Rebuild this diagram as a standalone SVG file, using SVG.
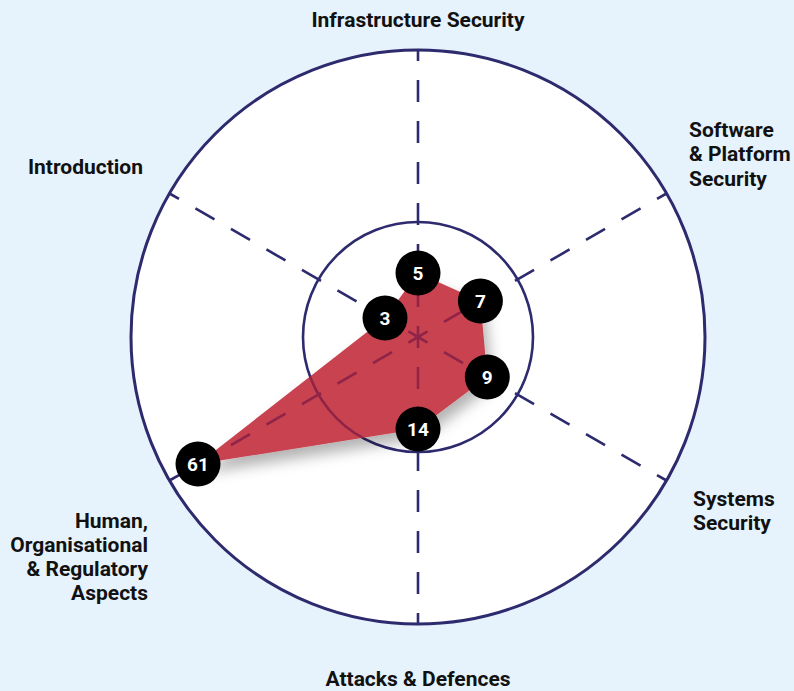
<svg xmlns="http://www.w3.org/2000/svg" width="794" height="691" viewBox="0 0 794 691">
<defs>
<style>
.lbl{font-family:Roboto,"Liberation Sans",sans-serif;font-weight:700;font-size:21px;fill:#111;}
.num{font-family:Roboto,"Liberation Sans",sans-serif;font-weight:700;font-size:19px;fill:#fff;text-anchor:middle;}
.ring{fill:none;}
.axis{stroke-width:2.6;stroke-dasharray:22 19;stroke-dashoffset:11;fill:none;}
.dot{fill:#000;}
</style>
<filter id="sh" x="-20%" y="-20%" width="150%" height="160%">
<feDropShadow dx="5" dy="9" stdDeviation="7" flood-color="#000" flood-opacity="0.3"/>
</filter>
<clipPath id="polyclip"><polygon points="418,273 480.4,301 487.3,377 418,429 198,464 385,318"/></clipPath>
<g id="frame">
<circle class="ring" cx="418" cy="337" r="115" stroke-width="2.6"/>
<circle class="ring" cx="418" cy="337" r="287" stroke-width="3"/>
<line class="axis" x1="418" y1="337" x2="418" y2="50"/>
<line class="axis" x1="418" y1="337" x2="418" y2="624"/>
<line class="axis" x1="418" y1="337" x2="666.5" y2="193.5"/>
<line class="axis" x1="418" y1="337" x2="666.5" y2="480.5"/>
<line class="axis" x1="418" y1="337" x2="169.5" y2="480.5"/>
<line class="axis" x1="418" y1="337" x2="169.5" y2="193.5"/>
</g>
</defs>
<rect x="0" y="0" width="794" height="691" fill="#e6f3fd"/>
<circle cx="418" cy="337" r="287" fill="#fff"/>
<g id="connectors">
<use href="#frame" stroke="#2d2a6e"/>
</g>
<g id="area">
<polygon points="418,273 480.4,301 487.3,377 418,429 198,464 385,318" fill="#c9424f" filter="url(#sh)"/>
<g clip-path="url(#polyclip)"><use href="#frame" stroke="#8f2448"/></g>
</g>
<g id="node-5"><circle class="dot" cx="418" cy="273" r="22.5"/><text class="num" x="418" y="280">5</text></g>
<g id="node-7"><circle class="dot" cx="480.4" cy="301" r="22.5"/><text class="num" x="480.4" y="308">7</text></g>
<g id="node-9"><circle class="dot" cx="487.3" cy="377" r="22.5"/><text class="num" x="487.3" y="384">9</text></g>
<g id="node-14"><circle class="dot" cx="418" cy="429" r="22.5"/><text class="num" x="418" y="436">14</text></g>
<g id="node-61"><circle class="dot" cx="198" cy="464" r="22.5"/><text class="num" x="198" y="471">61</text></g>
<g id="node-3"><circle class="dot" cx="385" cy="318" r="22.5"/><text class="num" x="385" y="325">3</text></g>
<g id="labels">
<text class="lbl" x="418" y="27" text-anchor="middle">Infrastructure Security</text>
<text class="lbl" x="689" y="137"><tspan x="689">Software</tspan><tspan x="689" dy="24.3">&amp; Platform</tspan><tspan x="689" dy="24.3">Security</tspan></text>
<text class="lbl" x="143" y="174" text-anchor="end">Introduction</text>
<text class="lbl" x="693" y="506"><tspan x="693">Systems</tspan><tspan x="693" dy="24.3">Security</tspan></text>
<text class="lbl" x="148" y="528" text-anchor="end"><tspan x="148">Human,</tspan><tspan x="148" dy="24">Organisational</tspan><tspan x="148" dy="24">&amp; Regulatory</tspan><tspan x="148" dy="24">Aspects</tspan></text>
<text class="lbl" x="418" y="686" text-anchor="middle">Attacks &amp; Defences</text>
</g>
</svg>
